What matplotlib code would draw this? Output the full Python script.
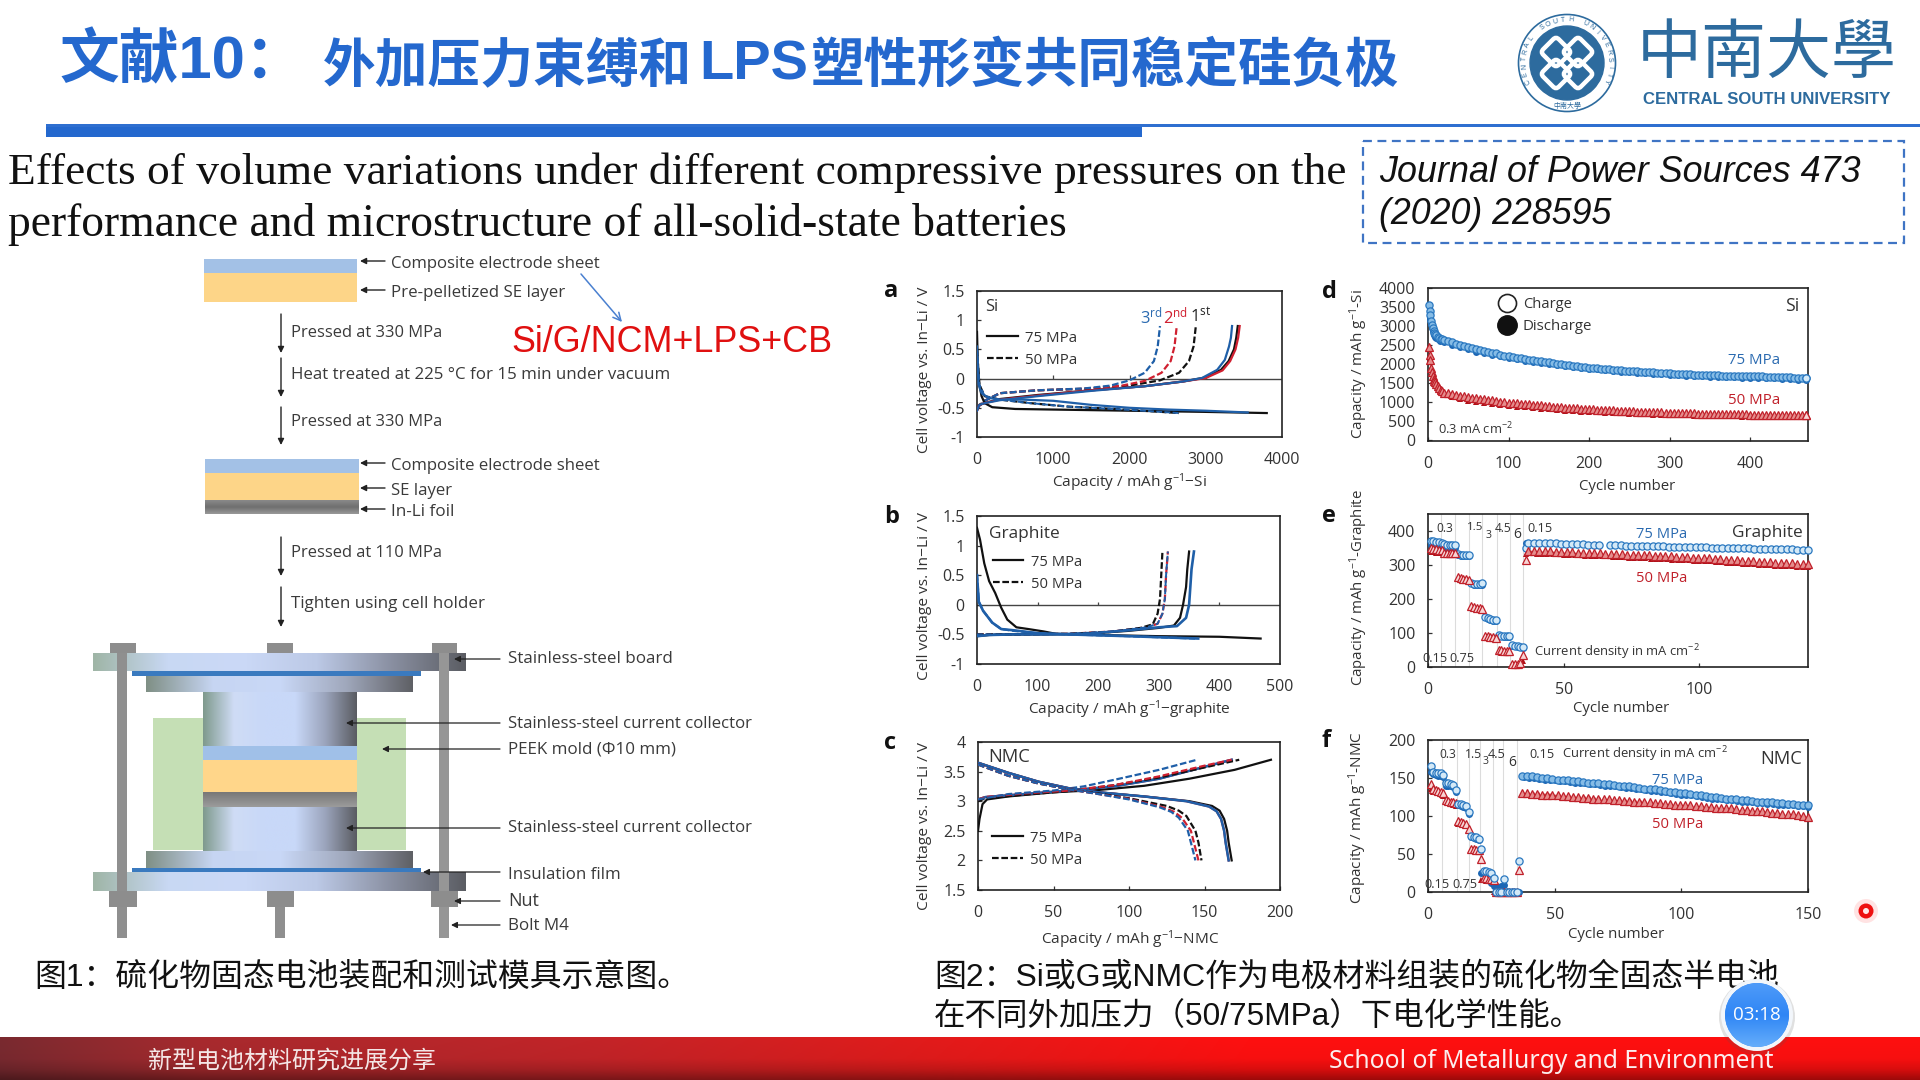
import numpy as np
import matplotlib
matplotlib.use("Agg")
import matplotlib.pyplot as plt
from matplotlib.patches import Rectangle, Circle, FancyBboxPatch
from matplotlib.colors import LinearSegmentedColormap, to_rgb
from matplotlib.transforms import Affine2D

plt.rcParams['font.family'] = ['Open Sans', 'DejaVu Sans']
plt.rcParams['mathtext.default'] = 'regular'

# ------------------------------------------------------------------ data
volt_ticks = [-1, -0.5, 0, 0.5, 1, 1.5]
volt_labels = ['-1', '-0.5', '0', '0.5', '1', '1.5']
nmc_ticks = [1.5, 2, 2.5, 3, 3.5, 4]
nmc_labels = ['1.5', '2', '2.5', '3', '3.5', '4']

# panel a  (capacity, voltage)
a_dis_75_1 = [(0, .8), (10, .3), (30, -.1), (60, -.3), (100, -.42), (200, -.49), (500, -.52), (1000, -.53), (2000, -.55), (3000, -.57), (3800, -.59)]
a_chg_75_1 = [(0, -.55), (30, -.45), (100, -.42), (300, -.35), (800, -.28), (1500, -.2), (2200, -.13), (2700, -.05), (3000, .02), (3200, .15), (3300, .3), (3370, .5), (3400, .7), (3420, .9)]
a_chg_75_2 = [(0, -.55), (30, -.45), (100, -.42), (300, -.36), (800, -.29), (1500, -.2), (2200, -.13), (2700, -.05), (3000, .01), (3220, .14), (3320, .3), (3390, .5), (3425, .7), (3445, .9)]
a_chg_75_3 = [(0, -.55), (30, -.45), (100, -.42), (300, -.37), (800, -.3), (1500, -.21), (2200, -.13), (2700, -.05), (2950, .01), (3150, .15), (3250, .32), (3305, .55), (3330, .7), (3345, .9)]
a_dis_75_2 = [(0, .55), (20, -.1), (60, -.25), (150, -.33), (300, -.36), (600, -.36), (1000, -.38), (1500, -.45), (2000, -.5), (2500, -.53), (3000, -.55), (3550, -.58)]
a_dis_50_1 = [(0, .5), (30, -.1), (100, -.3), (300, -.36), (700, -.42), (1200, -.48), (1800, -.52), (2300, -.56), (2650, -.59)]
a_chg_50_1 = [(0, -.5), (100, -.38), (300, -.25), (800, -.2), (1500, -.17), (2000, -.12), (2400, -.03), (2650, .1), (2780, .3), (2840, .55), (2870, .9)]
a_chg_50_2 = [(0, -.5), (100, -.38), (300, -.25), (800, -.2), (1500, -.17), (1900, -.12), (2200, -.04), (2420, .1), (2540, .3), (2590, .55), (2620, .9)]
a_chg_50_3 = [(0, -.5), (100, -.38), (300, -.25), (800, -.2), (1400, -.17), (1750, -.12), (2000, -.03), (2200, .1), (2320, .3), (2370, .55), (2400, .9)]

# panel b
b_dis_75_1 = [(0, 1.3), (5, 1.1), (12, .7), (20, .4), (30, .2), (40, -.05), (50, -.25), (65, -.38), (85, -.41), (110, -.45), (130, -.49), (200, -.51), (300, -.53), (400, -.54), (468, -.57)]
b_dis_75_2 = [(0, .5), (3, .05), (10, -.1), (25, -.3), (40, -.41), (60, -.43), (100, -.48), (150, -.5), (250, -.53), (365, -.57)]
b_chg_75_1 = [(0, -.53), (20, -.51), (60, -.5), (120, -.5), (180, -.49), (250, -.44), (300, -.39), (325, -.35), (335, -.22), (340, 0), (345, .3), (347, .6), (350, .9)]
b_chg_75_2 = [(0, -.53), (20, -.51), (60, -.5), (120, -.5), (180, -.49), (250, -.43), (300, -.38), (330, -.36), (345, -.22), (350, 0), (352, .3), (354, .6), (358, .9)]
b_dis_50_2 = [(0, .52), (3, .05), (10, -.1), (25, -.3), (40, -.41), (60, -.44), (100, -.48), (150, -.5), (250, -.53), (360, -.57)]
b_chg_50_1 = [(0, -.5), (60, -.5), (150, -.49), (220, -.46), (270, -.39), (290, -.33), (298, -.15), (302, .1), (304, .5), (306, .9)]
b_chg_50_2 = [(0, -.5), (60, -.5), (150, -.49), (225, -.45), (280, -.38), (298, -.32), (306, -.15), (310, .1), (312, .5), (315, .9)]

# panel c
c_chg_75_1 = [(0, 2.5), (1, 2.7), (3, 2.95), (6, 3.03), (20, 3.08), (50, 3.15), (80, 3.19), (110, 3.26), (140, 3.38), (170, 3.53), (194, 3.7)]
c_chg_75_2 = [(0, 3.03), (5, 3.07), (30, 3.12), (60, 3.18), (90, 3.25), (120, 3.38), (150, 3.58), (168, 3.7)]
c_chg_50_1 = [(0, 3.0), (5, 3.05), (30, 3.11), (60, 3.17), (90, 3.27), (120, 3.4), (150, 3.57), (173, 3.7)]
c_chg_50_2 = [(0, 3.03), (5, 3.07), (30, 3.13), (60, 3.18), (90, 3.27), (120, 3.42), (150, 3.6), (168, 3.7)]
c_chg_50_3 = [(0, 3.03), (20, 3.12), (50, 3.18), (70, 3.25), (90, 3.36), (120, 3.53), (145, 3.7)]
c_dis_75_1 = [(0, 3.65), (20, 3.48), (40, 3.33), (60, 3.22), (80, 3.15), (110, 3.08), (140, 3.0), (155, 2.92), (160, 2.84), (163, 2.7), (165, 2.5), (166, 2.3), (168, 2.0)]
c_dis_75_2 = [(0, 3.65), (20, 3.48), (40, 3.33), (60, 3.22), (80, 3.15), (110, 3.08), (138, 3.0), (153, 2.91), (158, 2.83), (161, 2.7), (163, 2.5), (164, 2.3), (166, 2.0)]
c_dis_50_1 = [(0, 3.62), (20, 3.43), (40, 3.3), (60, 3.2), (80, 3.13), (100, 3.05), (125, 2.92), (133, 2.84), (138, 2.75), (144, 2.5), (146, 2.3), (148, 2.0)]
c_dis_50_2 = [(0, 3.62), (20, 3.43), (40, 3.3), (60, 3.2), (80, 3.12), (100, 3.04), (122, 2.9), (130, 2.82), (135, 2.72), (141, 2.5), (143, 2.3), (146, 2.0)]
c_dis_50_3 = [(0, 3.62), (20, 3.43), (40, 3.3), (60, 3.2), (80, 3.12), (100, 3.03), (120, 2.9), (128, 2.82), (133, 2.72), (139, 2.5), (141, 2.3), (144, 2.0)]

# panel d (cycling, Si)
d_early = [1, 2, 3, 4, 5, 6, 7, 8, 9, 10, 12, 14, 16, 18, 20]
d_75_chg_early = [3550, 3400, 3280, 3130, 3040, 2950, 2880, 2830, 2790, 2760, 2720, 2690, 2670, 2650, 2630]
d_75_chg_late = [2600, 2570, 2540, 2510, 2480, 2450, 2420, 2390, 2360, 2340,
                 2320, 2300, 2280, 2250, 2225, 2205, 2185, 2165, 2150, 2135,
                 2120, 2105, 2090, 2075, 2060, 2045, 2030, 2015, 2000, 1985,
                 1975, 1960, 1950, 1935, 1925, 1910, 1900, 1890, 1880, 1870,
                 1865, 1855, 1850, 1840, 1830, 1825, 1815, 1810, 1800, 1795,
                 1785, 1780, 1775, 1765, 1760, 1755, 1750, 1745, 1740, 1735,
                 1730, 1725, 1720, 1718, 1715, 1712, 1708, 1705, 1700, 1698,
                 1695, 1692, 1690, 1688, 1685, 1682, 1680, 1678, 1675, 1672,
                 1668, 1665, 1662, 1658, 1655, 1650, 1645, 1640, 1635, 1628]
d_dis_early = [2, 3, 4, 5, 6, 7, 8, 9, 10, 12, 15, 20]
d_75_dis_early = [3330, 3180, 3050, 2960, 2880, 2810, 2760, 2720, 2690, 2650, 2610, 2570]
d_75_dis_late = [2510, 2450, 2390, 2330, 2285, 2250, 2205, 2165, 2125, 2095,
                 2065, 2035, 2005, 1975, 1950, 1925, 1905, 1880, 1860, 1840,
                 1825, 1805, 1790, 1775, 1760, 1745, 1730, 1720, 1710, 1695,
                 1685, 1680, 1670, 1665, 1660, 1650, 1645, 1640, 1635, 1630,
                 1625, 1615, 1605, 1595, 1585]
d_50_chg_early = [2450, 2250, 2100, 1900, 1800, 1700, 1620, 1560, 1520, 1480, 1420, 1370, 1320, 1290, 1250]
d_50_chg_late = [1230, 1210, 1185, 1165, 1150, 1135, 1120, 1105, 1090, 1075,
                 1060, 1045, 1030, 1015, 1000, 990, 980, 970, 960, 950,
                 940, 930, 925, 915, 905, 895, 885, 880, 870, 860,
                 850, 845, 840, 830, 825, 815, 810, 805, 800, 795,
                 790, 785, 780, 775, 770, 765, 760, 755, 750, 745,
                 742, 738, 735, 730, 725, 722, 718, 715, 712, 710,
                 708, 705, 702, 700, 698, 695, 692, 690, 688, 685,
                 684, 682, 680, 678, 677, 675, 673, 672, 670, 668,
                 667, 665, 664, 662, 661, 660, 658, 657, 656, 655]
d_50_dis_early = [2250, 2100, 1900, 1750, 1650, 1570, 1510, 1470, 1430, 1370, 1290, 1200]
d_50_dis_late = [1130, 1080, 1040, 1005, 975, 950, 925, 900, 880, 865,
                 845, 825, 810, 800, 780, 770, 755, 745, 730, 720,
                 715, 705, 700, 690, 680, 675, 670, 660, 655, 650,
                 645, 640, 640, 635, 630, 625, 620, 618, 615, 612,
                 610, 608, 605, 603, 600]

# panel e (rate, graphite)
e_rate_cycles = list(range(1, 37))
e_75_open = [372, 370, 368, 367, 366, 362, 360, 360, 360, 360, 331, 330, 329, 329, 329, 248, 244, 243, 243, 246,
             148, 143, 140, 138, 137, 95, 92, 90, 90, 91, 65, 63, 61, 60, 59, 350]
e_75_fill = [360, 358, 356, 355, 354, 352, 350, 350, 350, 350, 328, 327, 326, 326, 326, 246, 242, 241, 241, 242,
             146, 141, 138, 136, 135, 93, 90, 88, 88, 88, 63, 61, 59, 58, 57, 365]
e_75_post_a = [366, 366, 365, 365, 364, 364, 363, 362, 362, 361, 361, 360, 360, 359]
e_75_post_b = [358, 358, 358, 357, 357, 357, 356, 356, 355, 355, 355, 354, 354, 354, 353, 353, 352, 352, 352, 351, 351,
               351, 350, 350, 349, 349, 349, 348, 348, 348, 347, 347, 346, 346, 346, 345, 345, 344]
e_50_open = [350, 348, 346, 345, 344, 335, 335, 335, 335, 335, 265, 262, 260, 258, 257, 180, 177, 175, 173, 172,
             92, 90, 88, 87, 86, 50, 49, 48, 48, 47, 8, 9, 10, 12, 35, 315]
e_50_fill = [338, 337, 336, 335, 334, 330, 330, 330, 330, 330, 258, 256, 254, 252, 251, 174, 171, 169, 167, 166,
             85, 84, 82, 81, 80, 43, 42, 42, 41, 41, 2, 3, 4, 6, 18, 332]
e_50_post = [342, 341, 341, 340, 340, 339, 338, 338, 337, 336, 336, 335, 334, 334, 333, 332, 332, 331, 330, 330, 329, 328, 328, 327, 326, 326,
             325, 324, 324, 323, 322, 321, 320, 320, 319, 318, 316, 315, 314, 313, 312, 311, 310, 309, 308, 307, 306, 305, 305, 304, 303, 302]
e_50_post_fill = [334, 333, 333, 332, 331, 331, 330, 329, 329, 328, 327, 327, 326, 325, 325, 324, 323, 323, 322, 321, 321, 320, 319, 319, 318, 317,
                  316, 316, 315, 314, 313, 312, 311, 311, 310, 309, 307, 306, 305, 304, 303, 302, 301, 300, 299, 298, 297, 296, 296, 295, 294, 293]
e_guides = [4.8, 9.8, 15, 20, 25.3, 30.3, 35]

# panel f (rate, NMC)
f_rate_cycles = list(range(1, 37))
f_75_open = [166, 158, 157, 157, 156, 154, 143, 143, 142, 141, 134, 116, 116, 115, 113, 105, 74, 73, 72, 70, 57,
             27, 27, 26, 25, 18, 0, 0, 0, 17, 0, 0, 0, 0, 0, 41]
f_75_fill = [158, 155, 154, 153, 153, 151, 140, 140, 139, 138, 131, 114, 113, 112, 110, 103, 72, 71, 70, 68, 25,
             25, 24, 23, 12, 8, 8, 6, 8, 9, 0, 0, 0, 0, 0, 0]
f_75_post = [153, 152, 152, 151, 150, 150, 149, 148, 148, 147, 146, 146, 145, 144, 144, 143, 142, 142, 141, 140, 139, 139, 138, 137, 136, 135, 135, 134, 133,
             132, 131, 130, 130, 129, 128, 127, 126, 125, 125, 124, 123, 123, 122, 121, 121, 120, 119, 119, 118, 118, 117, 117, 116, 116, 115, 115, 114]
f_75_post_fill = [151, 150, 150, 149, 148, 148, 147, 146, 146, 145, 144, 144, 143, 142, 142, 141, 140, 140, 139, 138, 137, 137, 136, 135, 134, 133, 133, 132, 131,
                  130, 129, 128, 128, 127, 126, 125, 124, 123, 123, 122, 121, 121, 120, 119, 119, 118, 117, 117, 116, 116, 115, 115, 114, 114, 113, 113, 112]
f_50_open = [142, 135, 134, 133, 132, 130, 121, 120, 119, 118, 117, 93, 92, 91, 90, 83, 56, 56, 55, 55, 44,
             18, 18, 17, 17, 16, 0, 0, 0, 0, 0, 0, 0, 0, 0, 29]
f_50_fill = [136, 132, 131, 130, 129, 126, 118, 117, 116, 115, 113, 90, 89, 88, 87, 80, 54, 54, 53, 53, 16,
             16, 15, 15, 14, 0, 0, 0, 0, 0, 0, 0, 0, 0, 0, 0]
f_50_post = [130, 130, 129, 129, 128, 128, 127, 127, 126, 126, 125, 125, 124, 124, 123, 123, 122, 122, 121, 121, 120, 120, 119, 119, 118, 118, 117, 117, 116,
             116, 115, 115, 114, 114, 113, 113, 112, 112, 111, 111, 110, 110, 109, 108, 108, 107, 106, 106, 105, 104, 104, 103, 102, 102, 101, 100, 99]
f_50_post_fill = [128, 128, 127, 127, 126, 126, 125, 125, 124, 124, 123, 123, 122, 122, 121, 121, 120, 120, 119, 119, 118, 118, 117, 117, 116, 116, 115, 115, 114,
                  114, 113, 113, 112, 112, 111, 111, 110, 110, 109, 109, 108, 108, 107, 106, 106, 105, 104, 104, 103, 102, 102, 101, 100, 100, 99, 98, 97]
f_guides = [5.5, 11.4, 16.3, 20.5, 25.5, 29.8, 35.3]

# ------------------------------------------------------------------ canvas
W, H = 1920, 1080
fig = plt.figure(figsize=(19.2, 10.8), dpi=100, facecolor='white')
renderer = fig.canvas.get_renderer()


def layer(z):
    ax = fig.add_axes([0, 0, 1, 1], zorder=z)
    ax.set_xlim(0, W)
    ax.set_ylim(H, 0)
    ax.axis('off')
    ax.patch.set_alpha(0)
    return ax


bg = layer(0)
fg = layer(5)
top = layer(8)

SANS_CJK = ['Liberation Sans', 'Noto Sans CJK SC']


def T(ax, x0, x1, yc, s, size=12, color='#333333', family=None, vertical=False, dy=2, **kw):
    """Text fitted between two pixel positions."""
    fam = family if family is not None else ['Open Sans', 'DejaVu Sans']
    if vertical:
        t = ax.text(yc, (x0 + x1) / 2, s, fontsize=size, color=color, family=fam,
                    rotation=90, ha='center', va='center', **kw)
        ext = t.get_window_extent(renderer).height
    else:
        t = ax.text(x0, yc + dy, s, fontsize=size, color=color, family=fam, ha='left', va='center', **kw)
        ext = t.get_window_extent(renderer).width
    t.set_fontsize(size * (x1 - x0) / ext)
    return t


def grad(ax, x0, x1, y0, y1, colors, z=1, horizontal=True):
    cm = LinearSegmentedColormap.from_list('g', colors)
    arr = np.linspace(0, 1, 256).reshape(1, -1) if horizontal else np.linspace(0, 1, 256).reshape(-1, 1)
    return ax.imshow(arr, extent=(x0, x1, y1, y0), cmap=cm, aspect='auto', zorder=z, interpolation='bilinear')


def rect(ax, x0, x1, y0, y1, c, z=1):
    ax.add_patch(Rectangle((x0, y0), x1 - x0, y1 - y0, facecolor=c, edgecolor='none', zorder=z))


def arrow(ax, tail, head, c='#222222', lw=1.0, ms=9, style='-|>', z=6):
    ax.annotate('', xy=head, xytext=tail, zorder=z,
                arrowprops=dict(arrowstyle=style, color=c, lw=lw, mutation_scale=ms, shrinkA=0, shrinkB=0))


# ------------------------------------------------------------------ header
BLUE = '#2468CE'
fg.text(60, 62, '文献10：', fontsize=43, color=BLUE, family=SANS_CJK, fontweight='bold', ha='left', va='center')
T(fg, 323, 692, 64, '外加压力束缚和', size=36, color=BLUE, family=['Noto Sans CJK SC'], fontweight='bold')
T(fg, 699, 808, 64, 'LPS', size=36, color=BLUE, family=['Liberation Sans'], fontweight='bold')
T(fg, 811, 1400, 64, '塑性形变共同稳定硅负极', size=36, color=BLUE, family=['Noto Sans CJK SC'], fontweight='bold')
rect(bg, 46, 1142, 124, 137, BLUE)
rect(bg, 46, 1920, 124, 127, '#2f6fd0')

T(fg, 8, 1345, 170, 'Effects of volume variations under different compressive pressures on the',
  size=30, color='#111111', family=['Liberation Serif'], dy=3)
T(fg, 8, 1066, 222, 'performance and microstructure of all-solid-state batteries',
  size=30, color='#111111', family=['Liberation Serif'], dy=3)

fg.add_patch(Rectangle((1363, 141), 541, 102, fill=False, edgecolor='#3f74c4', lw=1.6, linestyle=(0, (4, 2.5))))
T(fg, 1379, 1860, 170, 'Journal of Power Sources 473', size=26, color='#111111', family=['Liberation Sans'], style='italic')
T(fg, 1379, 1612, 212, '(2020) 228595', size=26, color='#111111', family=['Liberation Sans'], style='italic')

# logo
LOGO = '#2d6b9e'
cx, cy = 1567, 63
bg.add_patch(Circle((cx, cy), 48.5, facecolor='white', edgecolor=LOGO, lw=1.2, zorder=1))
bg.add_patch(Circle((cx, cy), 37, facecolor=LOGO, edgecolor=LOGO, lw=1, zorder=2))
for off in [(-11, -11), (11, 11), (-11, 11), (11, -11)]:
    rot = Affine2D().rotate_deg_around(cx + off[0], cy + off[1], 45) + bg.transData
    p = FancyBboxPatch((cx + off[0] - 11, cy + off[1] - 11), 22, 22, boxstyle='round,pad=0,rounding_size=4',
                       facecolor='none', edgecolor='white', lw=3.2, transform=rot, zorder=3)
    bg.add_patch(p)
ring = 'CENTRAL SOUTH UNIVERSITY'
for ch, ang in zip(ring, np.linspace(205, -25, len(ring))):
    r = 43
    fg.text(cx + r * np.cos(np.radians(ang)), cy - r * np.sin(np.radians(ang)), ch, fontsize=5, color=LOGO,
            family=['Liberation Sans'], rotation=ang - 90, ha='center', va='center')
fg.text(cx, cy + 43, '中南大學', fontsize=5, color=LOGO, family=['Noto Sans CJK TC'], ha='center', va='center')
T(fg, 1637, 1897, 53, '中南大學', size=46, color=LOGO, family=['Noto Sans CJK TC'])
T(fg, 1643, 1892, 98, 'CENTRAL SOUTH UNIVERSITY', size=13, color=LOGO, family=['Liberation Sans'], fontweight='bold')

# ------------------------------------------------------------------ assembly flow, left
LAYER_BLUE, LAYER_YEL = '#a3c1e6', '#fdd588'
rect(bg, 204, 357, 259, 273, LAYER_BLUE)
rect(bg, 204, 357, 273, 302, LAYER_YEL)
rect(bg, 205, 359, 459, 473, LAYER_BLUE)
rect(bg, 205, 359, 473, 500, LAYER_YEL)
grad(bg, 205, 359, 500, 514, ['#8a8a8a', '#6f6f6f', '#9a9a9a'], z=1, horizontal=False)

LBL = '#3a3a3a'
for (x1, y, s) in [(599, 262, 'Composite electrode sheet'), (564, 291, 'Pre-pelletized SE layer'),
                   (599, 464, 'Composite electrode sheet'), (452, 489, 'SE layer'), (454, 510, 'In-Li foil')]:
    T(fg, 391, x1, y, s, color=LBL)
    arrow(fg, (385, y - 1), (360, y - 1))
for (x1, y, s) in [(442, 331, 'Pressed at 330 MPa'), (669, 373, 'Heat treated at 225 °C for 15 min under vacuum'),
                   (442, 420, 'Pressed at 330 MPa'), (442, 551, 'Pressed at 110 MPa'),
                   (484, 602, 'Tighten using cell holder')]:
    T(fg, 291, x1, y, s, color=LBL)
for (y0, y1) in [(314, 353), (358, 397), (407, 445), (537, 576), (587, 627)]:
    arrow(fg, (281, y0), (281, y1))
T(fg, 511, 832, 340, 'Si/G/NCM+LPS+CB', size=26, color='#e01010', family=['Liberation Sans'])
arrow(fg, (581, 274), (622, 322), c='#4a80d0', lw=1.1, ms=14, style='->')

# cell holder schematic
STEEL = ['#7f9a8d', '#cfdcf5', '#c8d8f8', '#c8d8f8', '#9aa3ba', '#5a5c62']
PLATE = ['#9fb5a6', '#c8d8f3', '#cbd9f7', '#bcc9e6', '#8a90a2', '#5b5d63']
rect(bg, 153, 406, 718, 850, '#c5dfb5', z=1)
grad(bg, 203, 357, 692, 746, STEEL, z=2)
grad(bg, 203, 357, 807, 851, STEEL, z=2)
rect(bg, 203, 357, 746, 760, '#a0c0e8', z=2)
rect(bg, 203, 357, 760, 792, '#ffd68a', z=2)
grad(bg, 203, 357, 792, 807, ['#777777', '#9c9c9c'], z=2, horizontal=False)
grad(bg, 146, 413, 676, 692, ['#7f8f85', '#c6d5f2', '#c9d8f7', '#a0a8bc', '#5f6065'], z=2)
grad(bg, 146, 413, 851, 868, ['#7f8f85', '#c6d5f2', '#c9d8f7', '#a0a8bc', '#5f6065'], z=2)
grad(bg, 93, 466, 653, 671, PLATE, z=3)
grad(bg, 93, 466, 872, 891, PLATE, z=3)
rect(bg, 132, 421, 671, 676, '#3a7abf', z=3)
rect(bg, 132, 421, 868, 872, '#3a7abf', z=3)
rect(bg, 117, 127, 653, 938, '#8f8f8f', z=4)
rect(bg, 439, 449, 653, 938, '#969696', z=4)
rect(bg, 275, 285, 907, 938, '#8f8f8f', z=4)
for (a0, a1) in [(110, 136), (267, 293), (432, 457)]:
    rect(bg, a0, a1, 643, 653, '#8d8d8d', z=4)
for (a0, a1) in [(109, 137), (267, 294), (431, 458)]:
    rect(bg, a0, a1, 891, 907, '#8d8d8d', z=4)
for (x1, ytxt, yarr, head, s) in [(671, 657, 659, 454, 'Stainless-steel board'),
                                  (751, 722, 723, 346, 'Stainless-steel current collector'),
                                  (676, 748, 749, 382, 'PEEK mold (Φ10 mm)'),
                                  (751, 826, 828, 346, 'Stainless-steel current collector'),
                                  (620, 873, 872, 423, 'Insulation film'),
                                  (539, 899, 901, 454, 'Nut'),
                                  (569, 924, 925, 451, 'Bolt M4')]:
    T(fg, 508, x1, ytxt, s, color=LBL)
    arrow(fg, (500, yarr), (head, yarr), lw=0.9)

# captions
T(fg, 34, 690, 975, '图1：硫化物固态电池装配和测试模具示意图。', size=23, color='#111111', family=SANS_CJK, dy=3)
T(fg, 934, 1782, 975, '图2：Si或G或NMC作为电极材料组装的硫化物全固态半电池', size=23, color='#111111', family=SANS_CJK, dy=3)
T(fg, 934, 1582, 1014, '在不同外加压力（50/75MPa）下电化学性能。', size=23, color='#111111', family=SANS_CJK, dy=3)

# footer
xs = np.array([0, 200, 600, 900, 1250, 1920]) / W
cols = np.array([to_rgb(c) for c in ['#7a2a30', '#a82a2e', '#c42428', '#e01c1c', '#ff1010', '#ff1010']])
col_x = np.linspace(0, 1, 960)
img = np.stack([np.interp(col_x, xs, cols[:, i]) for i in range(3)], axis=-1)
shade = np.interp(np.linspace(0, 1, 44), [0, .5, .75, 1], [1, .97, .85, .62])
img = img[None, :, :] * shade[:, None, None]
bg.imshow(img, extent=(0, W, 1080, 1037), aspect='auto', zorder=1, interpolation='bilinear')
T(fg, 148, 436, 1059, '新型电池材料研究进展分享', size=17, color='#f4e6e6', family=['Noto Sans CJK SC'])
T(fg, 1329, 1772, 1059, 'School of Metallurgy and Environment', size=18, color='#fbeeee', family=['Noto Sans'])

# timer badge and pointer
bx, by = 1757, 1015
top.add_patch(Circle((bx, by + 2), 38, facecolor='#555555', alpha=.18, edgecolor='none', zorder=1))
top.add_patch(Circle((bx, by), 36, facecolor='#f2f6fb', edgecolor='none', zorder=2))
disc = Circle((bx, by), 32, facecolor='#3f90f8', edgecolor='none', zorder=3)
top.add_patch(disc)
im = grad(top, bx - 32, bx + 32, by - 32, by + 32, ['#4f9bf9', '#2f86f5', '#66aefb'], z=4, horizontal=False)
im.set_clip_path(disc)
T(top, 1733, 1781, by, '03:18', size=14, color='white', family=['Open Sans'], dy=0).set_zorder(5)
top.add_patch(Circle((1866, 911), 12, facecolor='#ffb0b0', alpha=.35, edgecolor='none'))
top.add_patch(Circle((1866, 911), 7.5, facecolor='#ee1111', edgecolor='none'))
top.add_patch(Circle((1866, 911), 3, facecolor='#ffe8e8', edgecolor='none'))

for a in (bg, fg, top):
    a.set_xlim(0, W)
    a.set_ylim(H, 0)

# ------------------------------------------------------------------ chart panels
K, B, R = '#111111', '#1f5fa8', '#d02030'
OB, FB = '#2a78c0', '#1c66b4'
OR, FR = '#c0202a', '#b01018'
TICK = dict(labelsize=11.5, colors='#333333', labelfontfamily='Open Sans')


def panel(x0, x1, y0, y1, xlim, ylim, xt, yt, ylabels=None, xlabels=None, zero=False):
    ax = fig.add_axes([x0 / W, 1 - y1 / H, (x1 - x0) / W, (y1 - y0) / H], zorder=3)
    ax.patch.set_alpha(0)
    ax.set_xlim(*xlim)
    ax.set_ylim(*ylim)
    ax.set_xticks(xt)
    ax.set_xticklabels(xlabels if xlabels is not None else [str(v) for v in xt])
    ax.set_yticks(yt)
    ax.set_yticklabels(ylabels if ylabels is not None else [str(v) for v in yt])
    for s in ax.spines.values():
        s.set_linewidth(1.2)
        s.set_color('#222222')
    ax.tick_params(axis='y', direction='in', length=3, width=.9, pad=9, **TICK)
    if zero:
        ax.tick_params(axis='x', length=0, pad=11, **TICK)
        ax.axhline(0, color='#444444', lw=1.0, zorder=1)
        ax.vlines(xt[1:-1], 0, (ylim[1] - ylim[0]) * .022, color='#444444', lw=.9, zorder=1)
    else:
        ax.tick_params(axis='x', direction='in', length=3, width=.9, pad=11, **TICK)
    return ax


def curve(ax, pts, c, dashed=False, lw=1.6):
    xv, yv = zip(*pts)
    ax.plot(xv, yv, color=c, lw=lw, linestyle=(0, (3, 1.2)) if dashed else '-', zorder=3, solid_joinstyle='round')


def open_pts(ax, xv, yv, kind, dense=False):
    if kind == 'o':
        ax.plot(xv, yv, 'o', ms=5.2, mfc='#86bce6' if dense else '#d4e9f7', mec=OB, mew=.9, clip_on=False, zorder=5)
    else:
        ax.plot(xv, yv, '^', ms=5.2, mfc='#e58d8d' if dense else '#f7d5d5', mec=OR, mew=.9, clip_on=False, zorder=5)


def fill_pts(ax, xv, yv, kind):
    c, m = (FB, 'o') if kind == 'o' else (FR, '^')
    ax.plot(xv, yv, m, ms=5, color=c, mew=0, clip_on=False, zorder=4)


def legend_lines(x0, x1, y1, y2):
    fg.plot([x0, x1], [y1, y1], color='#111111', lw=1.6, zorder=6)
    fg.plot([x0, x1], [y2, y2], color='#111111', lw=1.6, linestyle=(0, (3, 1.2)), zorder=6)


GM1 = r' g$^{-1}$'
# --- a
ax = panel(977, 1282, 291, 437, (0, 4000), (-1, 1.5), [0, 1000, 2000, 3000, 4000], volt_ticks, volt_labels, zero=True)
curve(ax, a_chg_50_1, K, True)
curve(ax, a_chg_50_2, R, True)
curve(ax, a_chg_50_3, B, True)
curve(ax, a_dis_50_1, K, True)
curve(ax, a_dis_75_1, K)
curve(ax, a_chg_75_1, K)
curve(ax, a_chg_75_2, R)
curve(ax, a_chg_75_3, B)
curve(ax, a_dis_75_2, B)
curve(ax, a_dis_50_1, B, True, lw=1.4)

# --- b
ax = panel(977, 1280, 516, 664, (0, 500), (-1, 1.5), [0, 100, 200, 300, 400, 500], volt_ticks, volt_labels, zero=True)
curve(ax, b_chg_50_2, R, True)
curve(ax, b_chg_50_1, K, True)
curve(ax, b_chg_50_2, B, True, lw=1.4)
curve(ax, b_dis_75_1, K)
curve(ax, b_chg_75_1, K)
curve(ax, b_chg_75_2, B, lw=1.9)
curve(ax, b_dis_75_2, B, lw=1.9)
curve(ax, b_dis_50_2, B, True)

# --- c
ax = panel(978, 1280, 742, 890, (0, 200), (1.5, 4), [0, 50, 100, 150, 200], nmc_ticks, nmc_labels)
curve(ax, c_chg_75_1, K)
curve(ax, c_chg_75_2, R)
curve(ax, c_chg_75_2, B, lw=1.8)
curve(ax, c_chg_50_1, K, True)
curve(ax, c_chg_50_2, R, True)
curve(ax, c_chg_50_3, B, True)
curve(ax, c_dis_75_1, K)
curve(ax, c_dis_75_2, R)
curve(ax, c_dis_75_2, B, lw=1.8)
curve(ax, c_dis_50_1, K, True)
curve(ax, c_dis_50_2, R, True)
curve(ax, c_dis_50_3, B, True)

# --- d
ax = panel(1428, 1808, 288, 441, (0, 472), (-20, 4000), [0, 100, 200, 300, 400], [0, 500, 1000, 1500, 2000, 2500, 3000, 3500, 4000])
d_late = np.linspace(25, 470, len(d_75_chg_late))
d_dis_late = np.linspace(30, 470, len(d_75_dis_late))
fill_pts(ax, d_dis_early + list(d_dis_late), d_75_dis_early + d_75_dis_late, 'o')
open_pts(ax, d_early + list(d_late), d_75_chg_early + d_75_chg_late, 'o', dense=True)
fill_pts(ax, d_dis_early + list(d_dis_late), d_50_dis_early + d_50_dis_late, '^')
open_pts(ax, d_early + list(d_late), d_50_chg_early + d_50_chg_late, '^', dense=True)
open_pts(ax, [470], [1628], 'o')
open_pts(ax, [470], [655], '^')

# --- e
ax = panel(1428, 1808, 514, 667, (0, 140), (0, 450), [0, 50, 100], [0, 100, 200, 300, 400])
for g in e_guides:
    ax.axvline(g, color='#dcdcdc', lw=.8, zorder=1)
fill_pts(ax, e_rate_cycles, e_75_fill, 'o')
open_pts(ax, e_rate_cycles, e_75_open, 'o')
open_pts(ax, np.linspace(37, 63, len(e_75_post_a)), e_75_post_a, 'o')
open_pts(ax, np.linspace(67, 140, len(e_75_post_b)), e_75_post_b, 'o')
fill_pts(ax, e_rate_cycles, e_50_fill, '^')
open_pts(ax, e_rate_cycles, e_50_open, '^')
fill_pts(ax, np.linspace(38, 140, len(e_50_post_fill)), e_50_post_fill, '^')
open_pts(ax, np.linspace(37, 140, len(e_50_post)), e_50_post, '^', dense=True)

# --- f
ax = panel(1428, 1808, 740, 892, (0, 150), (0, 200), [0, 50, 100, 150], [0, 50, 100, 150, 200])
for g in f_guides:
    ax.axvline(g, color='#dcdcdc', lw=.8, zorder=1)
fill_pts(ax, f_rate_cycles, f_50_fill, '^')
open_pts(ax, f_rate_cycles, f_50_open, '^')
fill_pts(ax, np.linspace(38, 150, len(f_50_post_fill)), f_50_post_fill, '^')
open_pts(ax, np.linspace(37, 150, len(f_50_post)), f_50_post, '^', dense=True)
fill_pts(ax, f_rate_cycles, f_75_fill, 'o')
open_pts(ax, f_rate_cycles, f_75_open, 'o')
fill_pts(ax, np.linspace(38, 150, len(f_75_post_fill)), f_75_post_fill, 'o')
open_pts(ax, np.linspace(37, 150, len(f_75_post)), f_75_post, 'o', dense=True)

# --- panel letters
for (x, y, s) in [(884, 291, 'a'), (884, 517, 'b'), (884, 743, 'c'), (1322, 292, 'd'), (1322, 516, 'e'), (1322, 741, 'f')]:
    fg.text(x, y, s, fontsize=17, fontweight='bold', color='#111111', family=['Open Sans'], ha='left', va='center')

# --- axis titles
T(fg, 1052, 1206, 481, 'Capacity / mAh' + GM1 + '−Si')
T(fg, 1028, 1230, 708, 'Capacity / mAh' + GM1 + '−graphite')
T(fg, 1041, 1219, 938, 'Capacity / mAh' + GM1 + '−NMC')
VL = 'Cell voltage vs. In−Li / V'
T(fg, 287, 453, 925, VL, vertical=True)
T(fg, 513, 680, 925, VL, vertical=True)
T(fg, 742, 909, 925, VL, vertical=True)
T(fg, 290, 439, 1359, 'Capacity / mAh' + GM1 + '-Si', vertical=True)
T(fg, 490, 686, 1359, 'Capacity / mAh' + GM1 + '-Graphite', vertical=True)
T(fg, 731, 904, 1358, 'Capacity / mAh' + GM1 + '-NMC', vertical=True)
T(fg, 1579, 1675, 484, 'Cycle number')
T(fg, 1573, 1669, 707, 'Cycle number')
T(fg, 1568, 1664, 933, 'Cycle number')

# --- in-plot notes, a
T(fg, 985, 998, 305, 'Si')
legend_lines(987, 1018, 336, 358)
T(fg, 1025, 1077, 336, '75 MPa')
T(fg, 1025, 1077, 358, '50 MPa')
for (x, s, c) in [(1140, r'3$^{rd}$', '#2a6ab0'), (1163, r'2$^{nd}$', '#d02030'), (1190, r'1$^{st}$', '#222222')]:
    fg.text(x, 316, s, fontsize=12, color=c, family=['Open Sans'], ha='left', va='center')
# b
T(fg, 989, 1059, 532, 'Graphite')
legend_lines(993, 1023, 560, 582)
T(fg, 1031, 1082, 560, '75 MPa')
T(fg, 1031, 1082, 582, '50 MPa')
# c
T(fg, 988, 1030, 755, 'NMC')
legend_lines(992, 1023, 836, 858)
T(fg, 1030, 1082, 836, '75 MPa')
T(fg, 1030, 1082, 858, '50 MPa')
# d
fg.plot([1507], [303], 'o', ms=13, mfc='white', mec='#222222', mew=1.2, zorder=6)
fg.plot([1507], [325], 'o', ms=14, color='#111111', zorder=6)
T(fg, 1523, 1572, 303, 'Charge')
T(fg, 1523, 1592, 325, 'Discharge')
T(fg, 1785, 1799, 304, 'Si')
T(fg, 1728, 1780, 359, '75 MPa', color='#2a6ab0')
T(fg, 1728, 1780, 399, '50 MPa', color='#c0202a')
T(fg, 1438, 1512, 427, '0.3 mA cm$^{-2}$')
# e
for (x0, x1, y, s) in [(1436, 1453, 526, '0.3'), (1467, 1483, 526, '1.5'), (1486, 1492, 533, '3'), (1495, 1512, 526, '4.5'),
                       (1513, 1521, 533, '6'), (1527, 1552, 526, '0.15'), (1422, 1447, 656, '0.15'), (1449, 1474, 656, '0.75'),
                       (1534, 1699, 650, 'Current density in mA cm$^{-2}$'), (1732, 1802, 531, 'Graphite')]:
    T(fg, x0, x1, y, s)
T(fg, 1636, 1687, 532, '75 MPa', color='#2a6ab0')
T(fg, 1636, 1687, 576, '50 MPa', color='#c0202a')
# f
for (x0, x1, y, s) in [(1439, 1456, 752, '0.3'), (1465, 1482, 752, '1.5'), (1483, 1489, 760, '3'), (1488, 1506, 752, '4.5'),
                       (1508, 1516, 760, '6'), (1529, 1554, 752, '0.15'), (1424, 1449, 882, '0.15'), (1452, 1477, 882, '0.75'),
                       (1562, 1727, 752, 'Current density in mA cm$^{-2}$'), (1760, 1802, 757, 'NMC')]:
    T(fg, x0, x1, y, s)
T(fg, 1652, 1703, 779, '75 MPa', color='#2a6ab0')
T(fg, 1652, 1703, 823, '50 MPa', color='#c0202a')

fg.set_xlim(0, W)
fg.set_ylim(H, 0)
fig.savefig('out.png', dpi=100, facecolor='white')
